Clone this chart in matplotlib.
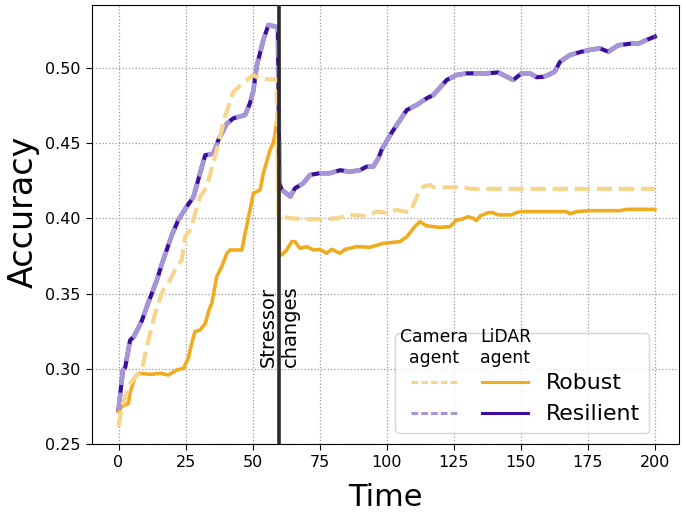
import numpy as np
import matplotlib
matplotlib.use("Agg")
import matplotlib.pyplot as plt
from matplotlib.lines import Line2D
from matplotlib.text import Text
from matplotlib.legend_handler import HandlerTuple, HandlerBase

# --- data ---
# resilient agents: camera and LiDAR curves coincide
t_res = [0, 1.6, 2.5, 4.3, 5.6, 8.7, 11.1, 12.4, 14.3, 16.4, 19.9, 22.3, 25.5, 27.9,
         30.4, 32.3, 35.4, 37.2, 40.4, 42.8, 47.2, 49.0, 50.3, 51.5, 54.0, 55.9, 58.4,
         59.4, 60.0, 60.9, 64.0, 65.8, 68.9, 71.4, 75.1, 78.8, 82.6, 86.3, 90.0, 92.5,
         95.0, 96.9, 98.1, 101.5, 105.0, 107.5, 111.2, 114.9, 117.4, 122.4, 126.1,
         129.8, 137.3, 141.6, 143.5, 147.2, 150.3, 153.4, 155.9, 158.4, 160.2, 162.7,
         164.6, 168.3, 172.7, 175.8, 179.5, 182.6, 186.3, 191.9, 193.8, 196.9, 200]
acc_res = [0.2726, 0.299, 0.301, 0.319, 0.321, 0.332, 0.344, 0.350, 0.359, 0.371, 0.389,
           0.399, 0.408, 0.414, 0.430, 0.442, 0.443, 0.452, 0.463, 0.4665, 0.4687, 0.4765,
           0.485, 0.501, 0.5186, 0.5286, 0.5275, 0.527, 0.423, 0.419, 0.4145, 0.420,
           0.4233, 0.4289, 0.430, 0.430, 0.432, 0.431, 0.432, 0.4344, 0.4344, 0.440,
           0.4455, 0.456, 0.4654, 0.472, 0.4754, 0.4798, 0.482, 0.492, 0.4953, 0.4964,
           0.4964, 0.497, 0.4953, 0.492, 0.4964, 0.4964, 0.4938, 0.4941, 0.4953, 0.4975,
           0.504, 0.5086, 0.5108, 0.512, 0.513, 0.5108, 0.515, 0.5164, 0.516, 0.5186,
           0.5208]

t_cam_rob = [0, 1.2, 4.3, 6.8, 8.7, 10.5, 12.4, 14.3, 16.7, 19.2, 21.7, 23.6, 24.8, 26.7,
             30.4, 32.9, 36.6, 39.7, 42.8, 47.2, 50.3, 52.8, 57.7, 59.0, 59.6, 64.0,
             68.9, 75.1, 81.4, 86.3, 92.5, 96.3, 99.4, 103.7, 106.8, 108.7, 110.0,
             111.5, 113.6, 116.1, 117.4, 120.0, 128.5, 131.0, 200]
acc_cam_rob = [0.2615, 0.2748, 0.290, 0.2959, 0.299, 0.3147, 0.328, 0.3413, 0.3524,
               0.359, 0.3679, 0.3723, 0.3878, 0.392, 0.4144, 0.421, 0.4455, 0.4676,
               0.4842, 0.4909, 0.4953, 0.4925, 0.4925, 0.4925, 0.402, 0.400, 0.3996,
               0.3994, 0.400, 0.4023, 0.4016, 0.4045, 0.4038, 0.4056, 0.4045, 0.404,
               0.409, 0.4155, 0.421, 0.4222, 0.4207, 0.4205, 0.421, 0.4196, 0.4196]

t_lid_rob = [0, 1.2, 3.7, 4.3, 6.2, 8.05, 11.8, 15.5, 18.6, 21.7, 24.2, 26.0, 27.3, 28.5,
             30.4, 32.3, 33.9, 34.8, 36.6, 38.5, 40.4, 41.6, 46.0, 47.2, 50.3, 52.8,
             54.0, 56.5, 57.7, 58.4, 59.3, 60.0, 60.9, 62.7, 64.6, 65.8, 67.7, 70.2,
             72.6, 75.1, 77.6, 79.5, 82.6, 84.5, 88.8, 93.8, 98.7, 104.9, 107.5, 110.5,
             112.4, 114.9, 119.9, 123.6, 126.1, 128.0, 130.4, 132.3, 133.5, 134.8,
             137.9, 139.7, 141.6, 146.6, 148.5, 150.9, 167.1, 168.3, 170.8, 175.8,
             187.0, 189.5, 200]
acc_lid_rob = [0.2715, 0.275, 0.277, 0.284, 0.2948, 0.297, 0.2963, 0.297, 0.2959,
               0.2992, 0.3003, 0.307, 0.317, 0.3247, 0.3258, 0.330, 0.340, 0.3436,
               0.3612, 0.368, 0.3768, 0.379, 0.379, 0.390, 0.4167, 0.4189, 0.430,
               0.4455, 0.450, 0.4566, 0.470, 0.376, 0.3757, 0.379, 0.3845, 0.3845,
               0.380, 0.3812, 0.379, 0.3794, 0.3768, 0.3794, 0.3768, 0.3794, 0.3812,
               0.3808, 0.3834, 0.3845, 0.3878, 0.3945, 0.3978, 0.395, 0.394, 0.3945,
               0.399, 0.3994, 0.4011, 0.400, 0.3985, 0.4016, 0.4038, 0.4038, 0.4023,
               0.4023, 0.404, 0.4045, 0.4045, 0.403, 0.4045, 0.4051, 0.4051, 0.406,
               0.406]

STRESSOR_T = 60
HEADERS = ("Camera\nagent", "LiDAR\nagent")
ROW_LABELS = ["Robust", "Resilient"]

# colours
LID_ROB = "#F0AC1F"
CAM_ROB = "#F8D58C"
LID_RES = "#3C0E9E"
CAM_RES = "#A796D6"


class HeaderHandler(HandlerBase):
    """draws a column header (plain string) in place of a legend handle"""
    def create_artists(self, legend, orig_handle, xdescent, ydescent, width, height,
                       fontsize, trans):
        t = Text(-xdescent + width / 2, -ydescent + height / 2 + 2, orig_handle,
                 ha="center", va="center", multialignment="center", fontsize=12.4,
                 transform=trans)
        return [t]


fig = plt.figure(figsize=(6.83, 5.13), dpi=100)
ax = fig.add_axes([0.1343, 0.1345, 0.8598, 0.8548])

ax.plot(t_res, acc_res, color=LID_RES, lw=3.0, zorder=3)
ax.plot(t_res, acc_res, color=CAM_RES, lw=3.4, ls="--", zorder=4)
ax.plot(t_lid_rob, acc_lid_rob, color=LID_ROB, lw=2.6, zorder=3)
ax.plot(t_cam_rob, acc_cam_rob, color=CAM_ROB, lw=3.0, ls="--", zorder=4)

ax.axvline(STRESSOR_T, color="#2b2b2b", lw=2.6, zorder=6)
ax.text(STRESSOR_T - 0.8, 0.301, "Stressor", rotation=90, ha="right", va="bottom",
        fontsize=14)
ax.text(STRESSOR_T + 0.6, 0.301, "changes", rotation=90, ha="left", va="bottom",
        fontsize=14)

ax.set_xlim(-10, 209)
ax.set_ylim(0.25, 0.5415)
ax.set_xticks(np.arange(0, 201, 25))
ax.set_yticks([0.25, 0.30, 0.35, 0.40, 0.45, 0.50])
ax.yaxis.set_major_formatter(plt.FormatStrFormatter("%.2f"))
ax.tick_params(labelsize=11.5, length=4.5)
ax.grid(True, ls=":", color="#999999", lw=0.9)
ax.set_axisbelow(True)
ax.set_xlabel("Time", fontsize=22, labelpad=9)
ax.set_ylabel("Accuracy", fontsize=24)
ax.yaxis.set_label_coords(-0.088, 0.53)

# legend: header row + two agents side by side per row
h_cam_rob = Line2D([], [], color=CAM_ROB, lw=2.2, ls=(0, (2.2, 1.0)))
h_lid_rob = Line2D([], [], color=LID_ROB, lw=2.2)
h_cam_res = Line2D([], [], color=CAM_RES, lw=2.2, ls=(0, (2.2, 1.0)))
h_lid_res = Line2D([], [], color=LID_RES, lw=2.2)
leg = ax.legend([HEADERS, (h_cam_rob, h_lid_rob), (h_cam_res, h_lid_res)],
                [""] + ROW_LABELS,
                handler_map={tuple: HandlerTuple(ndivide=None, pad=0.55),
                             str: HeaderHandler()},
                handlelength=5.95, handletextpad=0.5, numpoints=2, fontsize=15.84,
                loc="lower right", bbox_to_anchor=(0.9676, 0.0), framealpha=0.8)

fig.savefig("out.png", dpi=100)
